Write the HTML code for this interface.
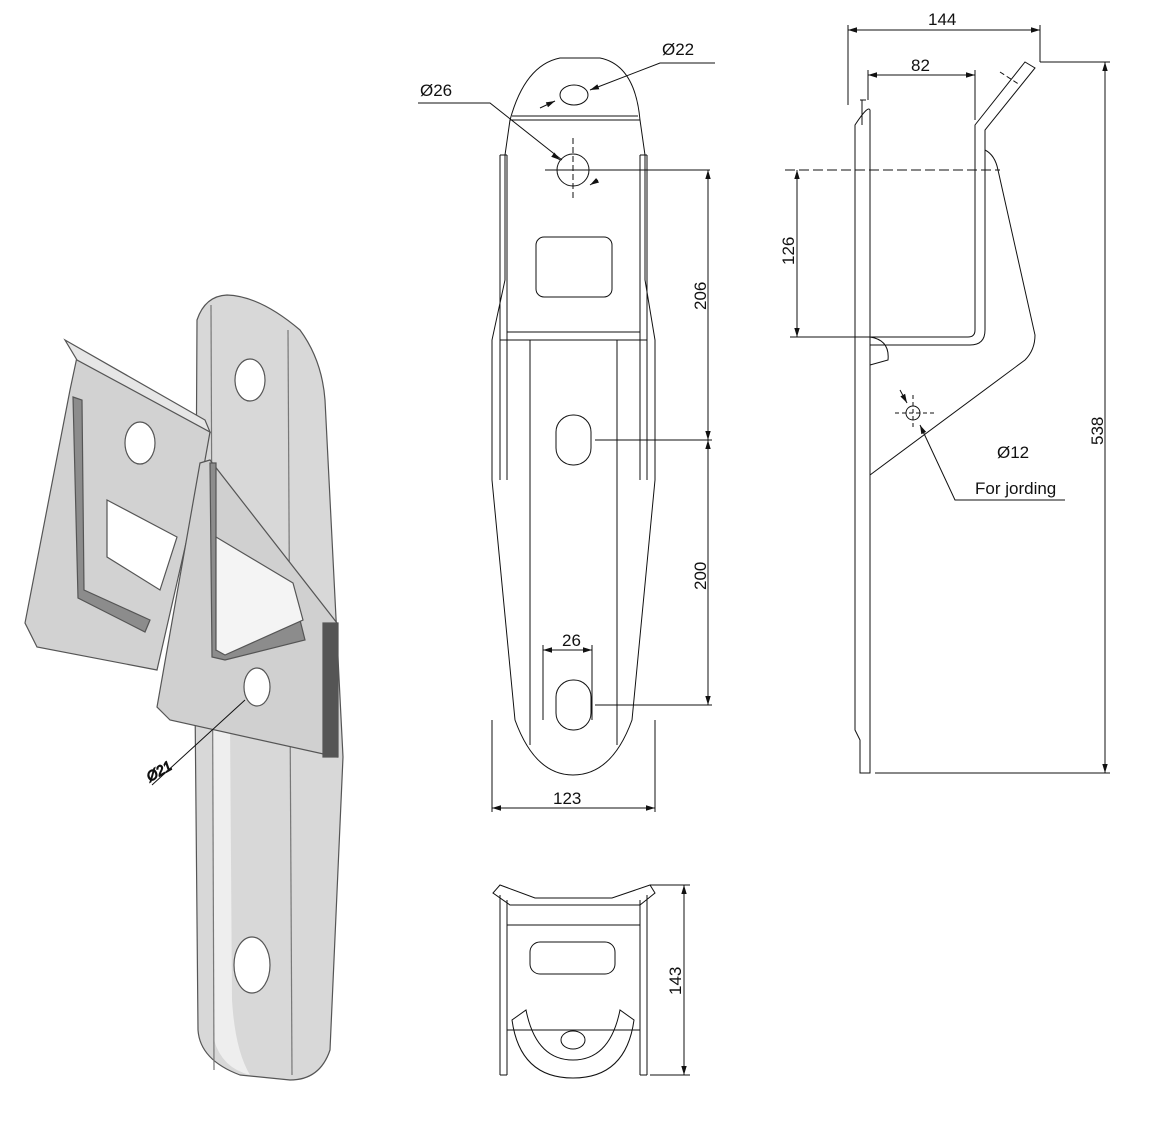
<!DOCTYPE html>
<html><head><meta charset="utf-8"><style>
html,body{margin:0;padding:0;background:#fff;}
svg{display:block;}
text{font-family:"Liberation Sans",sans-serif;font-size:17px;fill:#111;}
</style></head><body>
<svg width="1157" height="1123" viewBox="0 0 1157 1123" xmlns="http://www.w3.org/2000/svg">
<defs>
<marker id="a" viewBox="0 0 10 10" refX="10" refY="5" markerWidth="9" markerHeight="9" orient="auto-start-reverse"><path d="M0,2 L10,5 L0,8 z" fill="#111"/></marker>
</defs>
<g stroke="#111" stroke-width="1" fill="none">

<!-- ===== Isometric view ===== -->
<g stroke="#555" stroke-width="1.2">
<!-- main vertical plate -->
<path d="M197,320 Q205,296 227,295 Q260,296 300,330 Q322,360 325,400 L343,757 L330,1050 Q320,1080 290,1080 L240,1075 Q200,1060 198,1030 L195,700 Z" fill="#d8d8d8"/>
<path d="M250,1075 Q235,1050 232,1000 L230,720 L212,720 L214,1040 Q222,1068 250,1075 Z" fill="#eeeeee" stroke="none"/>
<line x1="211" y1="305" x2="214" y2="1070" stroke="#777"/>
<line x1="288" y1="330" x2="292" y2="1075" stroke="#777"/>
<ellipse cx="250" cy="380" rx="15" ry="21" fill="#fff"/>
<ellipse cx="252" cy="965" rx="18" ry="28" fill="#fff"/>
<!-- back bracket plate -->
<path d="M77,357 L200,420 L210,432 L205,460 L157,670 L37,647 L25,623 L70,390 Z" fill="#d2d2d2"/>
<path d="M65,340 L205,420 L210,432 L77,360 Z" fill="#e6e6e6"/>
<path d="M73,397 L82,400 L84,590 L150,620 L145,632 L78,598 Z" fill="#8c8c8c"/>
<ellipse cx="140" cy="443" rx="15" ry="21" fill="#fff"/>
<path d="M107,500 L177,537 L160,590 L107,557 Z" fill="#fff"/>
<!-- front bracket plate -->
<path d="M200,463 L210,460 L337,623 L337,757 L170,720 L157,707 Z" fill="#d0d0d0"/>
<path d="M210,463 L216,463 L216,650 L300,620 L305,640 L225,660 L212,657 Z" fill="#8c8c8c"/>
<path d="M216,537 L293,583 L303,620 L225,655 L216,650 Z" fill="#f4f4f4"/>
<rect x="323" y="623" width="15" height="134" fill="#555"/>
<ellipse cx="257" cy="687" rx="13" ry="19" fill="#fff"/>
</g>
<line x1="152" y1="785" x2="245" y2="700" stroke="#111"/>
<text x="150" y="782" transform="rotate(-30 150 782)" style="font-size:14px;font-style:italic">Ø21</text>

<!-- ===== Front view ===== -->
<path d="M510,120 Q525,65 560,58 L600,58 Q635,65 640,120"/>
<line x1="510" y1="120" x2="640" y2="120"/>
<line x1="512" y1="116" x2="638" y2="116"/>
<ellipse cx="574" cy="95" rx="14" ry="10"/>
<path d="M510,120 L505,155 L505,280 L492,340 L492,480 L515,720 Q535,775 573,775 Q612,775 632,720 L655,480 L655,340 L645,280 L645,155 L640,120"/>
<line x1="500" y1="155" x2="500" y2="480"/>
<line x1="507" y1="155" x2="507" y2="480"/>
<line x1="500" y1="155" x2="507" y2="155"/>
<line x1="640" y1="155" x2="640" y2="480"/>
<line x1="647" y1="155" x2="647" y2="480"/>
<line x1="640" y1="155" x2="647" y2="155"/>
<line x1="500" y1="340" x2="647" y2="340"/>
<line x1="507" y1="332" x2="640" y2="332"/>
<line x1="530" y1="340" x2="530" y2="745"/>
<line x1="617" y1="340" x2="617" y2="745"/>
<circle cx="573" cy="170" r="16"/>
<line x1="573" y1="138" x2="573" y2="200" stroke-dasharray="6,3"/>
<line x1="545" y1="170" x2="710" y2="170"/>
<rect x="536" y="237" width="76" height="60" rx="8"/>
<rect x="556" y="415" width="35" height="50" rx="17"/>
<rect x="556" y="680" width="35" height="50" rx="17"/>
<!-- dims -->
<line x1="595" y1="440" x2="712" y2="440"/>
<line x1="595" y1="705" x2="712" y2="705"/>
<line x1="708" y1="170" x2="708" y2="440" marker-start="url(#a)" marker-end="url(#a)"/>
<line x1="708" y1="440" x2="708" y2="705" marker-start="url(#a)" marker-end="url(#a)"/>
<line x1="492" y1="720" x2="492" y2="812"/>
<line x1="655" y1="720" x2="655" y2="812"/>
<line x1="492" y1="808" x2="655" y2="808" marker-start="url(#a)" marker-end="url(#a)"/>
<line x1="543" y1="645" x2="543" y2="720"/>
<line x1="592" y1="645" x2="592" y2="720"/>
<line x1="543" y1="650" x2="592" y2="650" marker-start="url(#a)" marker-end="url(#a)"/>
<polyline points="418,103 490,103 562,160"/>
<line x1="598" y1="180" x2="590" y2="185" marker-end="url(#a)"/>
<line x1="556" y1="157" x2="560" y2="160" marker-end="url(#a)"/>
<polyline points="715,63 660,63 590,90" marker-end="url(#a)"/>
<line x1="540" y1="108" x2="555" y2="101" marker-end="url(#a)"/>

<!-- ===== Side view ===== -->
<path d="M855,125 Q868,105 870,110 L870,773 L860,773 L860,740 L855,730 Z"/>
<line x1="862" y1="100" x2="862" y2="125"/>
<line x1="860" y1="100" x2="866" y2="100"/>
<path d="M870,337 L968,337 Q975,337 975,330 L975,125 L1025,62 L1035,68 L985,130 L985,330 Q985,345 970,345 L870,345"/>
<path d="M985,150 Q995,155 998,170 L1035,335 Q1035,350 1025,360 L870,475"/>
<path d="M870,337 Q890,340 888,360 L870,365"/>
<line x1="785" y1="170" x2="1000" y2="170" stroke-dasharray="10,4"/>
<line x1="1000" y1="72" x2="1020" y2="85" stroke-dasharray="5,3"/>
<circle cx="913" cy="413" r="7"/>
<line x1="895" y1="413" x2="935" y2="413" stroke-dasharray="4,3"/>
<line x1="913" y1="395" x2="913" y2="430" stroke-dasharray="4,3"/>
<polyline points="1065,500 955,500 920,425" marker-end="url(#a)"/>
<line x1="900" y1="390" x2="907" y2="403" marker-end="url(#a)"/>
<!-- dims -->
<line x1="848" y1="25" x2="848" y2="105"/>
<line x1="1040" y1="25" x2="1040" y2="62"/>
<line x1="848" y1="30" x2="1040" y2="30" marker-start="url(#a)" marker-end="url(#a)"/>
<line x1="868" y1="70" x2="868" y2="100"/>
<line x1="975" y1="70" x2="975" y2="120"/>
<line x1="868" y1="75" x2="975" y2="75" marker-start="url(#a)" marker-end="url(#a)"/>
<line x1="1040" y1="62" x2="1110" y2="62"/>
<line x1="875" y1="773" x2="1110" y2="773"/>
<line x1="1105" y1="62" x2="1105" y2="773" marker-start="url(#a)" marker-end="url(#a)"/>
<line x1="790" y1="337" x2="870" y2="337"/>
<line x1="797" y1="170" x2="797" y2="337" marker-start="url(#a)" marker-end="url(#a)"/>

<!-- ===== Bottom view ===== -->
<path d="M493,893 L500,885 L535,898 L612,898 L650,885 L655,893 L640,905 L510,905 Z"/>
<line x1="500" y1="895" x2="500" y2="1075"/>
<line x1="507" y1="900" x2="507" y2="1075"/>
<line x1="640" y1="900" x2="640" y2="1075"/>
<line x1="647" y1="895" x2="647" y2="1075"/>
<line x1="500" y1="1075" x2="507" y2="1075"/>
<line x1="640" y1="1075" x2="647" y2="1075"/>
<line x1="507" y1="1030" x2="640" y2="1030"/>
<line x1="507" y1="925" x2="640" y2="925"/>
<rect x="530" y="942" width="85" height="32" rx="10"/>
<path d="M512,1020 Q520,1078 573,1078 Q626,1078 634,1020 L620,1010 Q610,1060 573,1060 Q536,1060 526,1010 Z"/>
<ellipse cx="573" cy="1040" rx="12" ry="9"/>
<line x1="650" y1="885" x2="690" y2="885"/>
<line x1="650" y1="1075" x2="690" y2="1075"/>
<line x1="684" y1="885" x2="684" y2="1075" marker-start="url(#a)" marker-end="url(#a)"/>
</g>

<text x="420" y="96">Ø26</text>
<text x="662" y="55">Ø22</text>
<text x="706" y="310" transform="rotate(-90 706 310)">206</text>
<text x="706" y="590" transform="rotate(-90 706 590)">200</text>
<text x="553" y="804">123</text>
<text x="562" y="646">26</text>
<text x="928" y="25">144</text>
<text x="911" y="71">82</text>
<text x="1103" y="445" transform="rotate(-90 1103 445)">538</text>
<text x="794" y="265" transform="rotate(-90 794 265)">126</text>
<text x="997" y="458">Ø12</text>
<text x="975" y="494">For jording</text>
<text x="681" y="995" transform="rotate(-90 681 995)">143</text>
</svg>
</body></html>
